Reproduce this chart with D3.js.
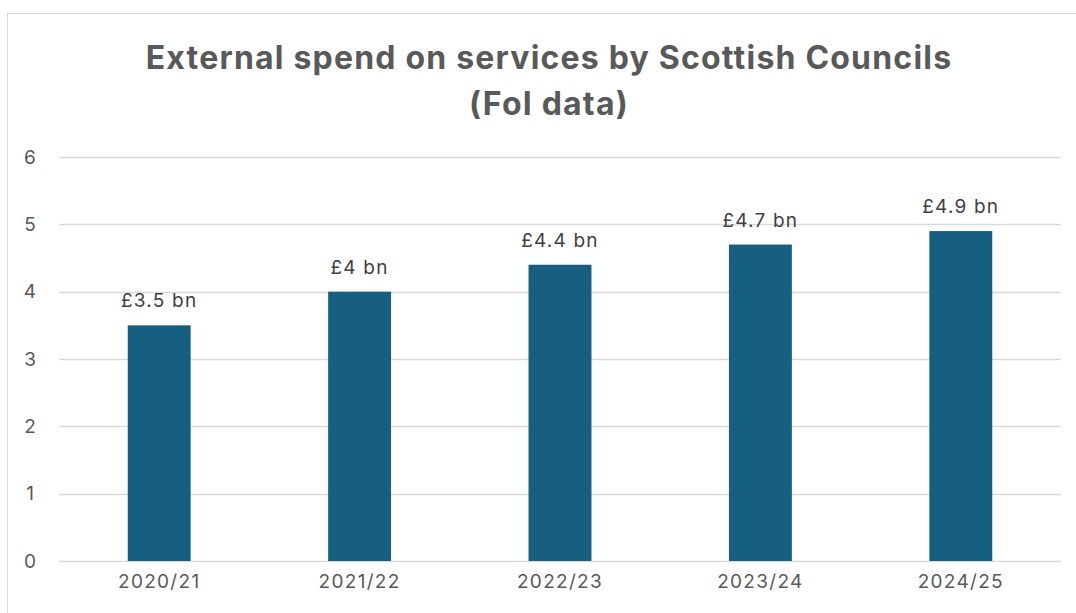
<!DOCTYPE html>
<html>
<head>
<meta charset="utf-8">
<script src="https://cdn.jsdelivr.net/npm/d3@7"></script>
<style>
  html, body { margin: 0; padding: 0; background: #fff; }
  svg { display: block; }
</style>
</head>
<body>
<svg id="chart" width="1076" height="613"></svg>
<script>
// Spend per financial year, £ billions
const years = ["2020/21", "2021/22", "2022/23", "2023/24", "2024/25"];
const spend = [3.5, 4, 4.4, 4.7, 4.9];
const spendLabels = ["£3.5 bn", "£4 bn", "£4.4 bn", "£4.7 bn", "£4.9 bn"];
const yTicks = [0, 1, 2, 3, 4, 5, 6];
const titleLines = ["External spend on services by Scottish Councils", "(FoI data)"];

const W = 1076, H = 613;
const plot = { left: 59, right: 1061, top: 157, bottom: 561 };
const font = "Inter, 'Open Sans', sans-serif";

const svg = d3.select("#chart");

// chart frame
svg.append("rect")
  .attr("x", 7.5).attr("y", 13.5)
  .attr("width", W + 10).attr("height", H + 10)
  .attr("fill", "#fff").attr("stroke", "#d9d9d9").attr("stroke-width", 1);

const x = d3.scaleBand().domain(years).range([plot.left, plot.right]).paddingInner(0.686).paddingOuter(0.343);
const y = d3.scaleLinear().domain([0, 6]).range([plot.bottom, plot.top]);

// gridlines
svg.append("g")
  .selectAll("line").data(yTicks).join("line")
  .attr("x1", plot.left).attr("x2", plot.right)
  .attr("y1", d => Math.round(y(d)) + 0.5).attr("y2", d => Math.round(y(d)) + 0.5)
  .attr("stroke", "#d9d9d9").attr("stroke-width", 1.5);

// y axis labels
const yAxis = svg.append("g")
  .attr("transform", `translate(${plot.left - 22},0)`)
  .call(d3.axisLeft(y).tickValues(yTicks).tickSize(0).tickPadding(0).tickFormat(d3.format("d")));
yAxis.select(".domain").remove();
yAxis.selectAll("text")
  .attr("text-anchor", "middle").attr("dx", "-7")
  .attr("font-family", font).attr("font-size", 19).attr("fill", "#595959");

// x axis labels
const xAxis = svg.append("g")
  .attr("transform", `translate(0,${plot.bottom})`)
  .call(d3.axisBottom(x).tickSize(0).tickPadding(14));
xAxis.select(".domain").remove();
xAxis.selectAll("text")
  .attr("font-family", font).attr("font-size", 19).attr("letter-spacing", 1.3)
  .attr("fill", "#595959");

// bars
svg.append("g")
  .selectAll("rect").data(years).join("rect")
  .attr("x", d => x(d)).attr("width", x.bandwidth())
  .attr("y", (d, i) => y(spend[i])).attr("height", (d, i) => y(0) - y(spend[i]))
  .attr("fill", "#165f80");

// value labels
svg.append("g")
  .selectAll("text").data(years).join("text")
  .attr("x", d => x(d) + x.bandwidth() / 2)
  .attr("y", (d, i) => y(spend[i]) - 18)
  .attr("text-anchor", "middle")
  .attr("font-family", font).attr("font-size", 19).attr("letter-spacing", 1.2)
  .attr("fill", "#404040")
  .text((d, i) => spendLabels[i]);

// title
svg.append("g")
  .selectAll("text").data(titleLines).join("text")
  .attr("x", 549).attr("y", (d, i) => 69 + i * 46)
  .attr("text-anchor", "middle")
  .attr("font-family", font).attr("font-size", 32).attr("font-weight", 700)
  .attr("letter-spacing", 1.2).attr("fill", "#595959")
  .text(d => d);
</script>
</body>
</html>
